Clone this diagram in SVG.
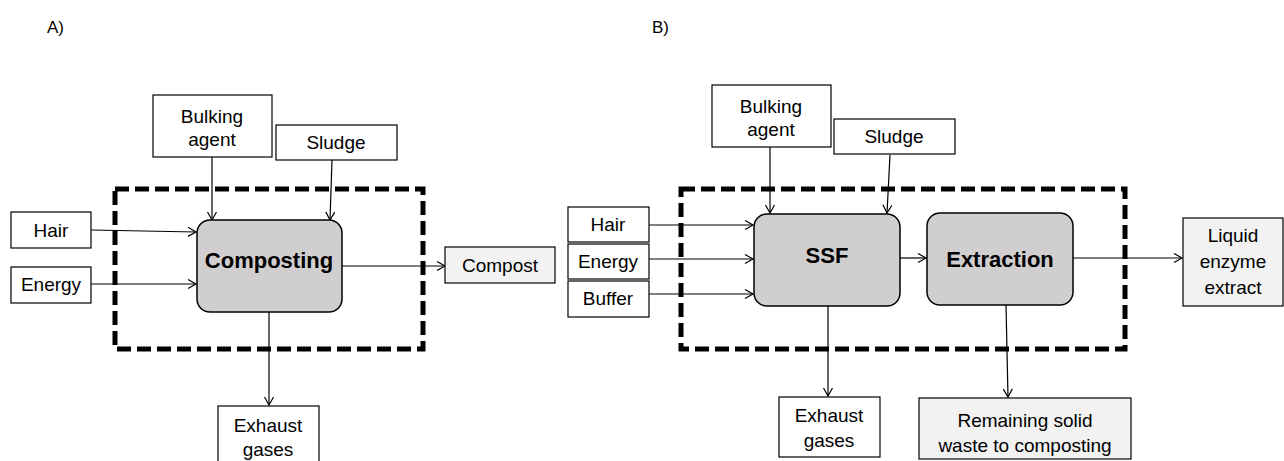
<svg xmlns="http://www.w3.org/2000/svg" width="1284" height="461" viewBox="0 0 1284 461">
<style>
text{font-family:"Liberation Sans",Arial,sans-serif;font-size:19px;fill:#000;text-anchor:middle}
.lbl{font-size:17px;text-anchor:start}
.bold{font-weight:bold;font-size:22px}
.box{fill:#fff;stroke:#000;stroke-width:1.2}
.out{fill:#f2f2f2;stroke:#000;stroke-width:1.2}
.proc{fill:#d0cece;stroke:#000;stroke-width:1.5}
.dash{fill:none;stroke:#000;stroke-width:5;stroke-dasharray:14 6}
.con{fill:none;stroke:#000;stroke-width:1.2;marker-end:url(#ah)}
</style>
<defs>
<marker id="ah" markerUnits="userSpaceOnUse" markerWidth="12" markerHeight="12" refX="9" refY="5" orient="auto">
<path d="M1,0.5 L9,5 L1,9.5" fill="none" stroke="#000" stroke-width="1.2"/>
</marker>
</defs>
<rect width="1284" height="461" fill="#fff"/>
<text class="lbl" x="47" y="33">A)</text>
<text class="lbl" x="652" y="33">B)</text>

<g id="connectors">
<path class="con" d="M212,157 L212,220"/>
<path class="con" d="M332,160 L330,220"/>
<path class="con" d="M91,230 L196,232"/>
<path class="con" d="M91,284 L196,284"/>
<path class="con" d="M342,266 L445,266"/>
<path class="con" d="M269,312 L269,405"/>
<path class="con" d="M770,147 L770,213"/>
<path class="con" d="M890,155 L887,213"/>
<path class="con" d="M649,225 L753,225"/>
<path class="con" d="M649,259 L753,259"/>
<path class="con" d="M649,294 L753,294"/>
<path class="con" d="M900,258 L926,258"/>
<path class="con" d="M1073,258 L1182,258"/>
<path class="con" d="M828,306 L828,396"/>
<path class="con" d="M1006,305 L1008,397"/>
</g>

<g id="boundaryA"><rect class="dash" x="115" y="189" width="308" height="160"/></g>
<g id="boundaryB"><rect class="dash" x="681" y="189" width="444" height="160"/></g>

<g id="bulkingA"><rect class="box" x="153" y="95" width="119" height="62"/><text x="212" y="123">Bulking</text><text x="212" y="146">agent</text></g>
<g id="sludgeA"><rect class="box" x="276" y="125" width="121" height="35"/><text x="336" y="149">Sludge</text></g>
<g id="hairA"><rect class="box" x="11" y="212" width="80" height="36"/><text x="51" y="237">Hair</text></g>
<g id="energyA"><rect class="box" x="11" y="267" width="80" height="36"/><text x="51" y="291">Energy</text></g>
<g id="composting"><rect class="proc" x="197" y="220" width="145" height="92" rx="13"/><text class="bold" x="269" y="268">Composting</text></g>
<g id="compost"><rect class="out" x="445" y="247" width="110" height="36"/><text x="500" y="272">Compost</text></g>
<g id="exhaustA"><rect class="box" x="218" y="406" width="101" height="62"/><text x="268" y="432">Exhaust</text><text x="268" y="456">gases</text></g>

<g id="bulkingB"><rect class="box" x="712" y="85" width="119" height="62"/><text x="771" y="113">Bulking</text><text x="771" y="136">agent</text></g>
<g id="sludgeB"><rect class="box" x="834" y="119" width="121" height="35"/><text x="894" y="143">Sludge</text></g>
<g id="hairB"><rect class="box" x="568" y="207" width="81" height="35"/><text x="608" y="231">Hair</text></g>
<g id="energyB"><rect class="box" x="568" y="244" width="81" height="35"/><text x="608" y="268">Energy</text></g>
<g id="bufferB"><rect class="box" x="568" y="281" width="81" height="36"/><text x="608" y="305">Buffer</text></g>
<g id="ssf"><rect class="proc" x="754" y="214" width="146" height="92" rx="13"/><text class="bold" x="827" y="263">SSF</text></g>
<g id="extraction"><rect class="proc" x="927" y="213" width="146" height="92" rx="13"/><text class="bold" x="1000" y="267">Extraction</text></g>
<g id="liquid"><rect class="out" x="1183" y="218" width="100" height="88"/><text x="1233" y="242">Liquid</text><text x="1233" y="268">enzyme</text><text x="1233" y="294">extract</text></g>
<g id="exhaustB"><rect class="box" x="779" y="397" width="101" height="60"/><text x="829" y="422">Exhaust</text><text x="829" y="447">gases</text></g>
<g id="remaining"><rect class="out" x="919" y="398" width="212" height="61"/><text x="1025" y="427">Remaining solid</text><text x="1025" y="452">waste to composting</text></g>
</svg>
